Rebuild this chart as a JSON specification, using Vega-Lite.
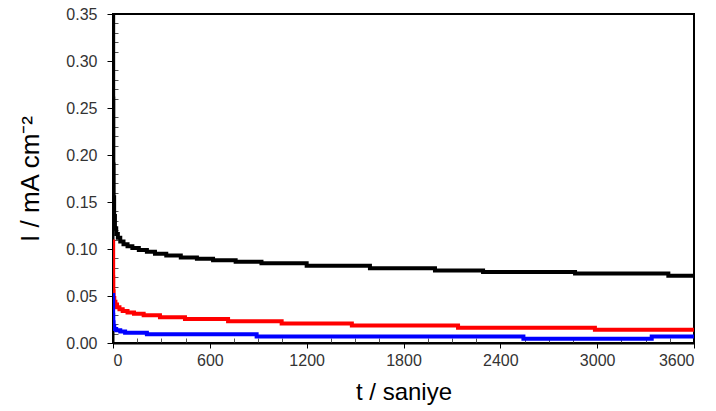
{
  "$schema": "https://vega.github.io/schema/vega-lite/v6.json",
  "width": 581,
  "height": 329,
  "autosize": {"type": "none"},
  "padding": {"left": 113, "top": 14, "right": 22, "bottom": 68},
  "background": "white",
  "config": {
    "view": {"stroke": "black", "strokeWidth": 2},
    "font": "Liberation Sans",
    "axis": {"grid": false, "labelFont": "Liberation Sans", "titleFont": "Liberation Sans", "labelFontSize": 16, "labelColor": "#333333", "titleFontSize": 24, "titleFontWeight": "normal", "titleColor": "black", "domainColor": "black", "domainWidth": 2, "tickColor": "black"}
  },
  "datasets": {
    "curves": [
      {"series": "a", "t": 0, "I": 0.35},
      {"series": "a", "t": 1, "I": 0.26},
      {"series": "a", "t": 2, "I": 0.19},
      {"series": "a", "t": 4, "I": 0.155},
      {"series": "a", "t": 7, "I": 0.135},
      {"series": "a", "t": 12, "I": 0.122},
      {"series": "a", "t": 20, "I": 0.116},
      {"series": "a", "t": 30, "I": 0.112},
      {"series": "a", "t": 45, "I": 0.108},
      {"series": "a", "t": 65, "I": 0.105},
      {"series": "a", "t": 90, "I": 0.103},
      {"series": "a", "t": 120, "I": 0.101},
      {"series": "a", "t": 160, "I": 0.099},
      {"series": "a", "t": 210, "I": 0.097},
      {"series": "a", "t": 260, "I": 0.095},
      {"series": "a", "t": 330, "I": 0.093},
      {"series": "a", "t": 420, "I": 0.091},
      {"series": "a", "t": 520, "I": 0.0895},
      {"series": "a", "t": 620, "I": 0.088},
      {"series": "a", "t": 760, "I": 0.0865},
      {"series": "a", "t": 920, "I": 0.0848},
      {"series": "a", "t": 1200, "I": 0.0822},
      {"series": "a", "t": 1592, "I": 0.0795},
      {"series": "a", "t": 1995, "I": 0.077},
      {"series": "a", "t": 2293, "I": 0.0755},
      {"series": "a", "t": 2863, "I": 0.074},
      {"series": "a", "t": 3441, "I": 0.0716},
      {"series": "a", "t": 3600, "I": 0.0716},
      {"series": "b", "t": 0, "I": 0.108},
      {"series": "b", "t": 1, "I": 0.07},
      {"series": "b", "t": 2, "I": 0.055},
      {"series": "b", "t": 4, "I": 0.048},
      {"series": "b", "t": 8, "I": 0.044},
      {"series": "b", "t": 15, "I": 0.041},
      {"series": "b", "t": 25, "I": 0.038},
      {"series": "b", "t": 40, "I": 0.036},
      {"series": "b", "t": 60, "I": 0.034},
      {"series": "b", "t": 90, "I": 0.0325},
      {"series": "b", "t": 130, "I": 0.031},
      {"series": "b", "t": 190, "I": 0.0295},
      {"series": "b", "t": 291, "I": 0.0275},
      {"series": "b", "t": 446, "I": 0.0255},
      {"series": "b", "t": 713, "I": 0.0232},
      {"series": "b", "t": 1045, "I": 0.0207},
      {"series": "b", "t": 1480, "I": 0.0185},
      {"series": "b", "t": 2138, "I": 0.0162},
      {"series": "b", "t": 2986, "I": 0.014},
      {"series": "b", "t": 3600, "I": 0.014},
      {"series": "c", "t": 0, "I": 0.051},
      {"series": "c", "t": 1, "I": 0.03},
      {"series": "c", "t": 2, "I": 0.022},
      {"series": "c", "t": 4, "I": 0.018},
      {"series": "c", "t": 8, "I": 0.015},
      {"series": "c", "t": 20, "I": 0.0135},
      {"series": "c", "t": 45, "I": 0.0122},
      {"series": "c", "t": 75, "I": 0.011},
      {"series": "c", "t": 210, "I": 0.0092},
      {"series": "c", "t": 890, "I": 0.0068},
      {"series": "c", "t": 2543, "I": 0.0045},
      {"series": "c", "t": 3338, "I": 0.0068},
      {"series": "c", "t": 3600, "I": 0.0068}
    ]
  },
  "data": {"name": "curves"},
  "resolve": {"axis": {"x": "independent", "y": "independent"}},
  "layer": [
    {
      "mark": {"type": "line", "opacity": 0},
      "encoding": {
        "x": {"field": "t", "type": "quantitative", "scale": {"domain": [0, 3600], "nice": false},
          "axis": {"orient": "bottom", "title": null, "labels": false, "domain": false, "values": [150,300,450,750,900,1050,1350,1500,1650,1950,2100,2250,2550,2700,2850,3150,3300,3450], "tickSize": -5, "tickColor": "#555555", "tickWidth": 1}},
        "y": {"field": "I", "type": "quantitative", "scale": {"domain": [0, 0.35], "nice": false},
          "axis": {"orient": "left", "title": null, "labels": false, "domain": false, "values": [0.01,0.02,0.03,0.04,0.06,0.07,0.08,0.09,0.11,0.12,0.13,0.14,0.16,0.17,0.18,0.19,0.21,0.22,0.23,0.24,0.26,0.27,0.28,0.29,0.31,0.32,0.33,0.34], "tickSize": -5, "tickColor": "#555555", "tickWidth": 1}}
      }
    },
    {
      "mark": {"type": "line", "interpolate": "step-after", "strokeWidth": 4, "clip": true},
      "encoding": {
        "x": {"field": "t", "type": "quantitative", "scale": {"domain": [0, 3600], "nice": false},
          "axis": {"orient": "bottom", "title": "t / saniye", "values": [0,600,1200,1800,2400,3000,3600], "format": "d", "tickSize": 5, "labelPadding": 4, "titlePadding": 12}},
        "y": {"field": "I", "type": "quantitative", "scale": {"domain": [0, 0.35], "nice": false},
          "axis": {"orient": "left", "title": "I / mA cm⁻²", "titleFontSize": 26, "values": [0,0.05,0.1,0.15,0.2,0.25,0.3,0.35], "format": ".2f", "tickSize": 6, "labelPadding": 10, "titlePadding": 22}},
        "color": {"field": "series", "type": "nominal", "scale": {"domain": ["c", "b", "a"], "range": ["#0000ff", "#ff0000", "#000000"]}, "legend": null},
        "order": {"field": "t", "type": "quantitative"}
      }
    }
  ]
}
